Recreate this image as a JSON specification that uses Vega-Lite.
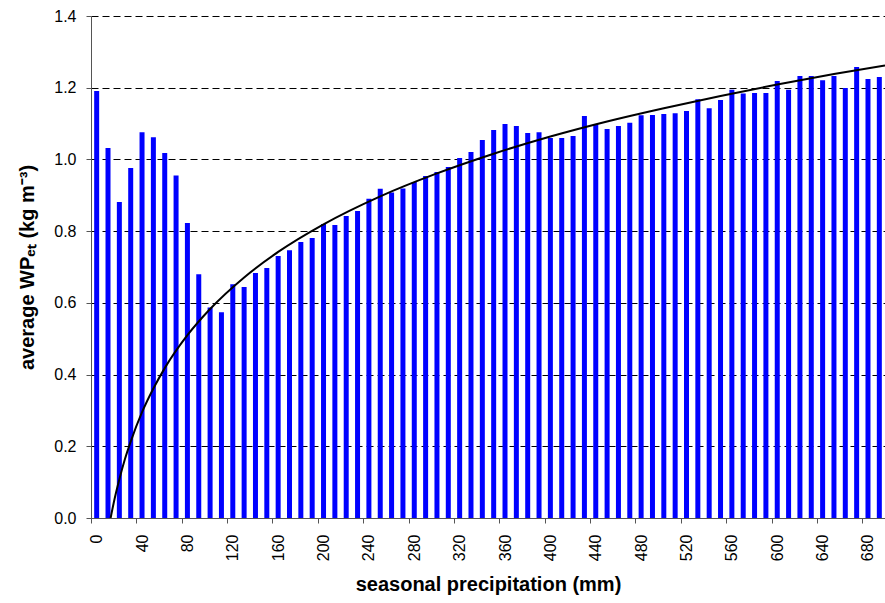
{
  "$schema": "https://vega.github.io/schema/vega-lite/v6.json",
  "width": 794,
  "height": 502,
  "autosize": {"type": "none"},
  "padding": {"left": 91, "top": 16, "right": 0, "bottom": 85},
  "background": "white",
  "config": {
    "view": {"stroke": null},
    "font": "Liberation Sans",
    "axis": {
      "labelFont": "Liberation Sans",
      "titleFont": "Liberation Sans",
      "labelFontSize": 16,
      "titleFontSize": 20,
      "titleFontWeight": "bold",
      "labelColor": "black",
      "titleColor": "black",
      "domainColor": "#555555",
      "tickColor": "#555555",
      "tickSize": 5
    }
  },
  "datasets": {
    "bars": [
      {"precip": 0, "wp": 1.191}, {"precip": 10, "wp": 1.032}, {"precip": 20, "wp": 0.881}, {"precip": 30, "wp": 0.976},
      {"precip": 40, "wp": 1.076}, {"precip": 50, "wp": 1.062}, {"precip": 60, "wp": 1.018}, {"precip": 70, "wp": 0.955},
      {"precip": 80, "wp": 0.823}, {"precip": 90, "wp": 0.68}, {"precip": 100, "wp": 0.587}, {"precip": 110, "wp": 0.574},
      {"precip": 120, "wp": 0.652}, {"precip": 130, "wp": 0.644}, {"precip": 140, "wp": 0.683}, {"precip": 150, "wp": 0.697},
      {"precip": 160, "wp": 0.731}, {"precip": 170, "wp": 0.747}, {"precip": 180, "wp": 0.77}, {"precip": 190, "wp": 0.781},
      {"precip": 200, "wp": 0.82}, {"precip": 210, "wp": 0.817}, {"precip": 220, "wp": 0.842}, {"precip": 230, "wp": 0.856},
      {"precip": 240, "wp": 0.89}, {"precip": 250, "wp": 0.918}, {"precip": 260, "wp": 0.908}, {"precip": 270, "wp": 0.919},
      {"precip": 280, "wp": 0.937}, {"precip": 290, "wp": 0.954}, {"precip": 300, "wp": 0.965}, {"precip": 310, "wp": 0.979},
      {"precip": 320, "wp": 1.004}, {"precip": 330, "wp": 1.021}, {"precip": 340, "wp": 1.054}, {"precip": 350, "wp": 1.082},
      {"precip": 360, "wp": 1.099}, {"precip": 370, "wp": 1.093}, {"precip": 380, "wp": 1.074}, {"precip": 390, "wp": 1.076},
      {"precip": 400, "wp": 1.06}, {"precip": 410, "wp": 1.06}, {"precip": 420, "wp": 1.065}, {"precip": 430, "wp": 1.121},
      {"precip": 440, "wp": 1.099}, {"precip": 450, "wp": 1.085}, {"precip": 460, "wp": 1.093}, {"precip": 470, "wp": 1.102},
      {"precip": 480, "wp": 1.123}, {"precip": 490, "wp": 1.124}, {"precip": 500, "wp": 1.127}, {"precip": 510, "wp": 1.129},
      {"precip": 520, "wp": 1.135}, {"precip": 530, "wp": 1.168}, {"precip": 540, "wp": 1.143}, {"precip": 550, "wp": 1.166},
      {"precip": 560, "wp": 1.194}, {"precip": 570, "wp": 1.184}, {"precip": 580, "wp": 1.185}, {"precip": 590, "wp": 1.185},
      {"precip": 600, "wp": 1.219}, {"precip": 610, "wp": 1.194}, {"precip": 620, "wp": 1.233}, {"precip": 630, "wp": 1.233},
      {"precip": 640, "wp": 1.221}, {"precip": 650, "wp": 1.233}, {"precip": 660, "wp": 1.199}, {"precip": 670, "wp": 1.258},
      {"precip": 680, "wp": 1.224}, {"precip": 690, "wp": 1.23}
    ],
    "trend": [
      {"precip": 12.3, "wp": 0.0}, {"precip": 15, "wp": 0.042}, {"precip": 20, "wp": 0.108}, {"precip": 25, "wp": 0.165},
      {"precip": 30, "wp": 0.213}, {"precip": 40, "wp": 0.295}, {"precip": 50, "wp": 0.361}, {"precip": 60, "wp": 0.418},
      {"precip": 80, "wp": 0.51}, {"precip": 100, "wp": 0.583}, {"precip": 130, "wp": 0.671}, {"precip": 160, "wp": 0.742},
      {"precip": 200, "wp": 0.819}, {"precip": 250, "wp": 0.897}, {"precip": 300, "wp": 0.961}, {"precip": 350, "wp": 1.016},
      {"precip": 400, "wp": 1.064}, {"precip": 450, "wp": 1.106}, {"precip": 500, "wp": 1.143}, {"precip": 550, "wp": 1.177},
      {"precip": 600, "wp": 1.209}, {"precip": 650, "wp": 1.238}, {"precip": 695, "wp": 1.262}
    ]
  },
  "layer": [
    {
      "data": {"name": "bars"},
      "mark": {"type": "bar", "color": "#0000FF", "size": 5},
      "encoding": {
        "x": {
          "field": "precip",
          "type": "quantitative",
          "scale": {"domain": [-5, 695], "nice": false, "zero": false, "padding": 0},
          "axis": {
            "title": "seasonal precipitation (mm)",
            "values": [0,10,20,30,40,50,60,70,80,90,100,110,120,130,140,150,160,170,180,190,200,210,220,230,240,250,260,270,280,290,300,310,320,330,340,350,360,370,380,390,400,410,420,430,440,450,460,470,480,490,500,510,520,530,540,550,560,570,580,590,600,610,620,630,640,650,660,670,680,690,700],
            "labelExpr": "datum.value % 40 === 0 && datum.value <= 680 ? datum.label : ''",
            "format": "d",
            "labelAngle": -90,
            "labelAlign": "right",
            "labelBaseline": "middle",
            "tickOffset": -5.67,
            "labelOffset": 5.67,
            "labelPadding": 11,
            "labelOverlap": false,
            "labelFlush": false,
            "titlePadding": 14,
            "grid": false
          }
        },
        "y": {
          "field": "wp",
          "type": "quantitative",
          "scale": {"domain": [0, 1.4], "nice": false},
          "axis": {
            "title": "average WPₑₜ (kg m⁻³)",
            "values": [0, 0.2, 0.4, 0.6, 0.8, 1.0, 1.2, 1.4],
            "format": ".1f",
            "grid": true,
            "gridColor": "black",
            "gridDash": [7, 4],
            "gridWidth": 1,
            "labelPadding": 10,
            "titlePadding": 16
          }
        }
      }
    },
    {
      "data": {"name": "trend"},
      "mark": {"type": "line", "color": "black", "strokeWidth": 2, "interpolate": "monotone", "clip": true},
      "encoding": {
        "x": {"field": "precip", "type": "quantitative"},
        "y": {"field": "wp", "type": "quantitative"}
      }
    }
  ]
}
